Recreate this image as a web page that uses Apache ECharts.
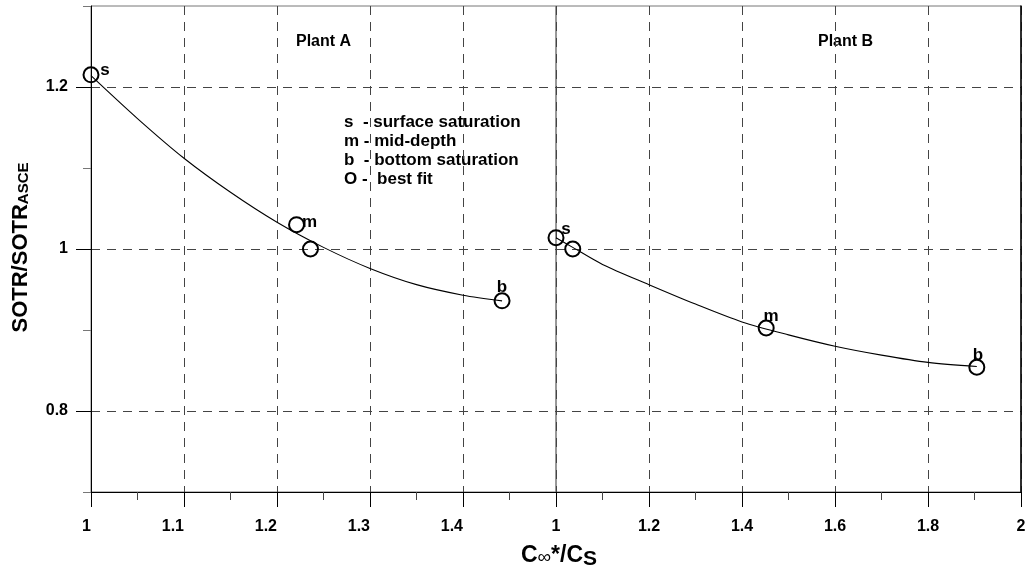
<!DOCTYPE html>
<html><head><meta charset="utf-8">
<script src="https://cdn.jsdelivr.net/npm/echarts@6/dist/echarts.min.js"></script>
<style>html,body{margin:0;padding:0;background:#fff}#c{width:1030px;height:571px}</style>
</head><body><div id="c"></div>
<script>
// ---- data ----
const yLabelValues = [0.8, 1, 1.2];
const xLabelsPlantA = [1, 1.1, 1.2, 1.3, 1.4];
const xLabelsPlantB = [1, 1.2, 1.4, 1.6, 1.8, 2];
const pointNames = ['s', 'm', 'b'];
const plantA_pointX = [1.0, 1.221, 1.442];
const plantA_pointY = [1.215, 1.030, 0.936];
const plantA_bestX = [1.236];
const plantA_bestY = [1.0];
const plantA_fitX = [1.0, 1.05, 1.1, 1.15, 1.2, 1.25, 1.3, 1.35, 1.4, 1.442];
const plantA_fitY = [1.214, 1.161, 1.112, 1.070, 1.033, 1.002, 0.976, 0.956, 0.943, 0.936];
const plantB_pointX = [1.0, 1.452, 1.905];
const plantB_pointY = [1.014, 0.9025, 0.854];
const plantB_bestX = [1.036];
const plantB_bestY = [1.0];
const plantB_fitX = [1.0, 1.036, 1.1, 1.2, 1.3, 1.4, 1.5, 1.6, 1.7, 1.8, 1.905];
const plantB_fitY = [1.014, 1.002, 0.981, 0.956, 0.932, 0.910, 0.894, 0.880, 0.869, 0.860, 0.855];
const legendLines = ['s  - surface saturation', 'm - mid-depth', 'b  - bottom saturation', 'O -  best fit'];
const panelTitles = ['Plant A', 'Plant B'];

// ---- styles ----
const FF = '"Liberation Sans", Arial, sans-serif';
const dash = [9, 7];
const gridColor = '#444';
const labelOffsets = {
  A: { s: [14, -5], m: [13, -2], b: [0, -14] },
  B: { s: [10, -8], m: [5, -12], b: [1, -12] }
};

function zip(xs, ys) { return xs.map((x, i) => [x, ys[i]]); }
function pointData(xs, ys, key) {
  return xs.map((x, i) => ({
    name: pointNames[i],
    value: [x, ys[i]],
    label: { offset: labelOffsets[key][pointNames[i]] }
  }));
}

const circleStyle = { color: 'rgba(255,255,255,0)', borderColor: '#000', borderWidth: 2, opacity: 1 };
const ptLabel = {
  show: true, position: 'inside', formatter: '{b}',
  fontFamily: FF, fontWeight: 'bold', fontSize: 17, color: '#000',
  textBorderWidth: 0, textBorderColor: 'transparent', opacity: 1
};

const chart = echarts.init(document.getElementById('c'), null, { renderer: 'canvas' });

const gridTop = 6, gridH = 486, panelW = 465;

const option = {
  backgroundColor: '#fff',
  animation: false,
  grid: [
    { left: 91, top: gridTop, width: panelW, height: gridH, show: true, borderColor: '#777', borderWidth: 1, backgroundColor: 'transparent', containLabel: false },
    { left: 556, top: gridTop, width: panelW, height: gridH, show: true, borderColor: '#777', borderWidth: 1, backgroundColor: 'transparent', containLabel: false }
  ],
  xAxis: [
    {
      gridIndex: 0, type: 'value', min: 1, max: 1.5, interval: 0.1, position: 'bottom',
      axisLine: { show: true, lineStyle: { color: '#000', width: 1 } },
      axisTick: { show: true, length: 15, lineStyle: { color: '#000' } },
      minorTick: { show: true, splitNumber: 2, length: 8, lineStyle: { color: '#444' } },
      splitLine: { show: true, lineStyle: { color: gridColor, type: dash, width: 1 } },
      axisLabel: {
        show: true, align: 'right', margin: 27, fontFamily: FF, fontWeight: 'bold', fontSize: 16, color: '#000',
        formatter: v => (xLabelsPlantA.some(t => Math.abs(t - v) < 1e-6) ? String(+v.toFixed(2)) : '')
      }
    },
    {
      gridIndex: 1, type: 'value', min: 1, max: 2, interval: 0.2, position: 'bottom',
      axisLine: { show: true, lineStyle: { color: '#000', width: 1 } },
      axisTick: { show: true, length: 15, lineStyle: { color: '#000' } },
      minorTick: { show: true, splitNumber: 2, length: 8, lineStyle: { color: '#444' } },
      splitLine: { show: true, lineStyle: { color: gridColor, type: dash, width: 1 } },
      axisLabel: {
        show: true, align: 'center', margin: 27, fontFamily: FF, fontWeight: 'bold', fontSize: 16, color: '#000',
        formatter: v => (xLabelsPlantB.some(t => Math.abs(t - v) < 1e-6) ? String(+v.toFixed(2)) : '')
      }
    }
  ],
  yAxis: [
    {
      gridIndex: 0, type: 'value', min: 0.7, max: 1.3, interval: 0.1, position: 'left',
      axisLine: { show: true, lineStyle: { color: '#000', width: 1 } },
      axisTick: { show: true, length: 8, lineStyle: { color: '#777' } },
      axisLabel: { show: false },
      splitLine: { show: true, lineStyle: { color: ['rgba(0,0,0,0)', gridColor], type: dash, width: 1 } }
    },
    {
      gridIndex: 0, type: 'value', min: 0.7, max: 1.3, interval: 0.1, position: 'left',
      axisLine: { show: false },
      axisTick: { show: true, length: 15, customValues: yLabelValues, lineStyle: { color: '#000' } },
      axisLabel: { show: true, customValues: yLabelValues, margin: 23, fontFamily: FF, fontWeight: 'bold', fontSize: 16, color: '#000' },
      splitLine: { show: false }
    },
    {
      gridIndex: 1, type: 'value', min: 0.7, max: 1.3, interval: 0.1, position: 'right',
      axisLine: { show: true, lineStyle: { color: '#000', width: 1.5 } },
      axisTick: { show: false },
      axisLabel: { show: false },
      splitLine: { show: true, lineStyle: { color: ['rgba(0,0,0,0)', gridColor], type: dash, width: 1 } }
    }
  ],
  series: [
    {
      name: 'Plant A fit', type: 'line', xAxisIndex: 0, yAxisIndex: 0,
      data: zip(plantA_fitX, plantA_fitY), smooth: 0.3, symbol: 'none',
      lineStyle: { color: '#000', width: 1.1 }, z: 3
    },
    {
      name: 'Plant A points', type: 'scatter', xAxisIndex: 0, yAxisIndex: 0, clip: false,
      symbol: 'circle', symbolSize: 15, itemStyle: circleStyle, label: ptLabel,
      data: pointData(plantA_pointX, plantA_pointY, 'A'), z: 4
    },
    {
      name: 'Plant A best fit', type: 'scatter', xAxisIndex: 0, yAxisIndex: 0, clip: false,
      symbol: 'circle', symbolSize: 15, itemStyle: circleStyle,
      data: zip(plantA_bestX, plantA_bestY), z: 4
    },
    {
      name: 'Plant B fit', type: 'line', xAxisIndex: 1, yAxisIndex: 2,
      data: zip(plantB_fitX, plantB_fitY), smooth: 0.3, symbol: 'none',
      lineStyle: { color: '#000', width: 1.1 }, z: 3
    },
    {
      name: 'Plant B points', type: 'scatter', xAxisIndex: 1, yAxisIndex: 2, clip: false,
      symbol: 'circle', symbolSize: 15, itemStyle: circleStyle, label: ptLabel,
      data: pointData(plantB_pointX, plantB_pointY, 'B'), z: 4
    },
    {
      name: 'Plant B best fit', type: 'scatter', xAxisIndex: 1, yAxisIndex: 2, clip: false,
      symbol: 'circle', symbolSize: 15, itemStyle: circleStyle,
      data: zip(plantB_bestX, plantB_bestY), z: 4
    }
  ],
  graphic: [
    { type: 'text', left: 296, top: 34, style: { text: panelTitles[0], font: 'bold 16px ' + FF, fill: '#000' } },
    { type: 'text', left: 818, top: 34, style: { text: panelTitles[1], font: 'bold 16px ' + FF, fill: '#000' } },
    {
      type: 'text', left: 344, top: 113,
      style: { text: legendLines.join('\n'), font: 'bold 17px ' + FF, lineHeight: 19, fill: '#000' }
    },
    {
      type: 'text', x: 20.5, y: 247.5, rotation: Math.PI / 2,
      style: {
        text: '{a|SOTR/SOTR}{b|ASCE}', align: 'center', verticalAlign: 'middle', fill: '#000',
        rich: {
          a: { fontFamily: FF, fontWeight: 'bold', fontSize: 22, verticalAlign: 'bottom', fill: '#000' },
          b: { fontFamily: FF, fontWeight: 'bold', fontSize: 15, verticalAlign: 'bottom', fill: '#000' }
        }
      }
    },
    {
      type: 'text', x: 559, y: 557,
      style: {
        text: '{a|C}{i|∞}{a|*/C}{s|S}', align: 'center', verticalAlign: 'middle', fill: '#000',
        rich: {
          a: { fontFamily: FF, fontWeight: 'bold', fontSize: 23, verticalAlign: 'bottom', padding: [0, 0, 3, 0], fill: '#000' },
          i: { fontFamily: FF, fontWeight: 'normal', fontSize: 19, verticalAlign: 'bottom', padding: [0, 0, 3, 0], fill: '#000' },
          s: { fontFamily: FF, fontWeight: 'bold', fontSize: 21, verticalAlign: 'bottom', fill: '#000' }
        }
      }
    }
  ]
};
chart.setOption(option);
</script>
</body></html>
